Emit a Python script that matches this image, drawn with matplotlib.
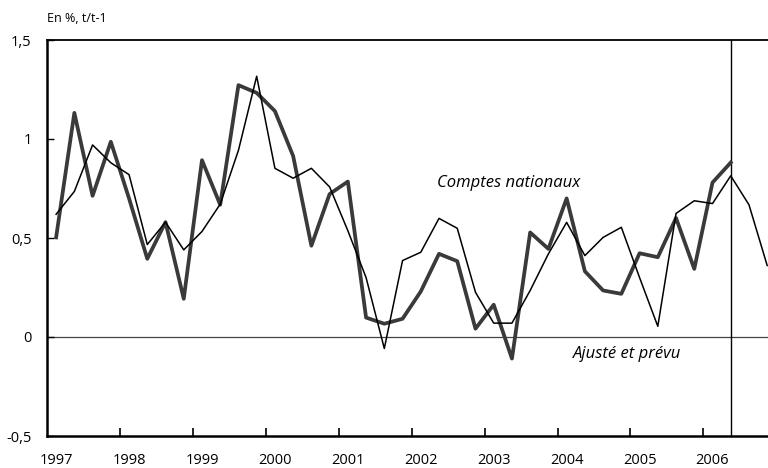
import numpy as np
import matplotlib
matplotlib.use("Agg")
import matplotlib.pyplot as plt

plt.rcParams['font.family'] = ['Open Sans', 'DejaVu Sans']

# quarterly growth, 1997Q1 ...
comptes = [0.62, 0.735, 0.97, 0.88,
           0.82, 0.467, 0.58, 0.44,
           0.533, 0.671, 0.943, 1.317,
           0.852, 0.802, 0.852, 0.758,
           0.537, 0.30, -0.058, 0.386,
           0.428, 0.599, 0.549, 0.226,
           0.07, 0.07, 0.235, 0.42,
           0.579, 0.411, 0.503, 0.554,
           0.30, 0.054, 0.624, 0.688,
           0.674, 0.814, 0.668, 0.361]
ajuste = [0.503, 1.132, 0.713, 0.986,
          0.70, 0.395, 0.58, 0.193,
          0.893, 0.668, 1.272, 1.233,
          1.141, 0.914, 0.461, 0.722,
          0.785, 0.098, 0.067, 0.092,
          0.23, 0.42, 0.383, 0.042,
          0.163, -0.109, 0.528, 0.445,
          0.70, 0.332, 0.235, 0.218,
          0.423, 0.403, 0.601, 0.344,
          0.78, 0.881]
years = list(range(1997, 2007))
ytick_vals = [-0.5, 0, 0.5, 1, 1.5]
ytick_labels = ['-0,5', '0', '0,5', '1', '1,5']

t_comptes = 1997 + (np.arange(len(comptes)) + 0.5) / 4
t_ajuste = 1997 + (np.arange(len(ajuste)) + 0.5) / 4

fig = plt.figure(figsize=(7.68, 4.68), dpi=100)
ax = fig.add_axes([47 / 768, 32 / 468, 721 / 768, 396 / 468])

ax.axhline(0, color='#444444', lw=0.9, zorder=1)
ax.axvline(2006.375, color='black', lw=1.0, zorder=1)
ax.plot(t_comptes, comptes, color='black', lw=1.1, zorder=3)
ax.plot(t_ajuste, ajuste, color='#3a3a3a', lw=2.7, zorder=2)

ax.set_xlim(1997, 2006.886)
ax.set_ylim(-0.5, 1.5)

# year boundary ticks, labels a bit to the right
ax.set_xticks(years[1:])
ax.set_xticklabels([])
ax.set_xticks([y + 0.125 for y in years], minor=True)
ax.set_xticklabels([str(y) for y in years], minor=True)
ax.tick_params(axis='x', which='major', direction='in', length=6, width=1.2)
ax.tick_params(axis='x', which='minor', length=0, pad=12, labelsize=10.5)

ax.set_yticks(ytick_vals)
ax.set_yticklabels(ytick_labels)
ax.tick_params(axis='y', direction='in', length=5, width=1, pad=11, labelsize=10.5)

ax.spines['right'].set_visible(False)
ax.spines['left'].set_linewidth(1.8)
ax.spines['bottom'].set_linewidth(1.8)
ax.spines['top'].set_linewidth(1.3)

ax.text(2002.35, 0.78, 'Comptes nationaux', style='italic', fontsize=12, va='center')
ax.text(2004.21, -0.087, 'Ajusté et prévu', style='italic', fontsize=12, va='center')
fig.text(47 / 768, 1 - 19 / 468, 'En %, t/t-1', fontsize=9, va='center')

fig.savefig('out.png', dpi=100)
